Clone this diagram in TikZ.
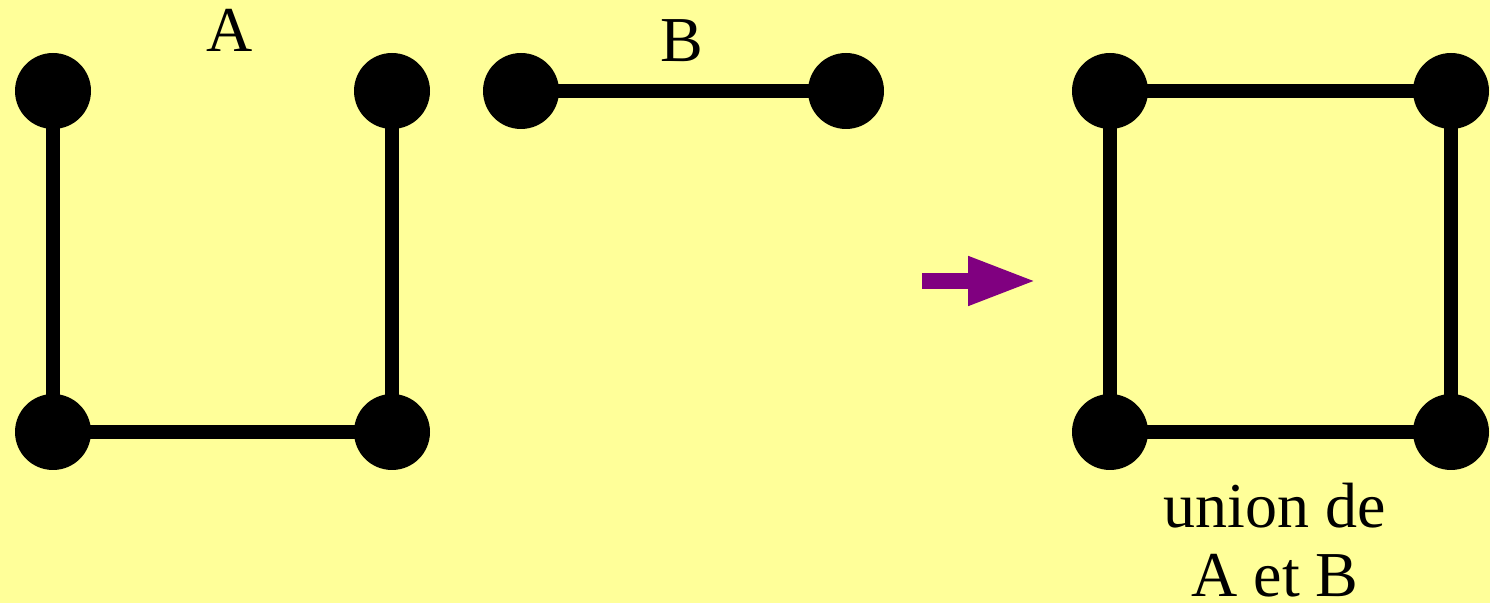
\documentclass[tikz,border=0pt]{standalone}
\usepackage{fontspec}
\setmainfont{Liberation Serif}
\usetikzlibrary{arrows.meta,backgrounds}
\definecolor{bgyellow}{HTML}{FFFF99}
\definecolor{arrowpurple}{HTML}{800080}
\tikzset{
  vertex/.style={circle,fill=black,minimum size=38pt,inner sep=0pt},
  edge/.style={line width=7pt},
  lbl/.style={font=\fontsize{32}{36}\selectfont,anchor=base},
}
\begin{document}
\begin{tikzpicture}[x=0.5pt,y=-0.5pt]
\useasboundingbox (0,0) rectangle (1490,603);
% graph A
\node[vertex] (a1) at (53,91) {};
\node[vertex] (a2) at (392,91) {};
\node[vertex] (a3) at (53,432) {};
\node[vertex] (a4) at (392,432) {};
\node[lbl] (labA) at (230,52) {A};
% graph B
\node[vertex] (b1) at (521,91) {};
\node[vertex] (b2) at (846,91) {};
\node[lbl] (labB) at (682,62) {B};
% union
\node[vertex] (u1) at (1110,91) {};
\node[vertex] (u2) at (1451,91) {};
\node[vertex] (u3) at (1110,432) {};
\node[vertex] (u4) at (1451,432) {};
\node[lbl] (labU1) at (1275,528) {union de};
\node[lbl] (labU2) at (1275,597) {A et B};
% arrow
\coordinate (arrS) at (922,281);
\coordinate (arrE) at (1037,281);
\draw[arrowpurple,line width=8pt,-{Triangle[length=34.5pt,width=22.5pt]}] (arrS) -- (arrE);
\begin{scope}[on background layer]
\fill[bgyellow] (0,0) rectangle (1490,603);
\draw[edge] (a1.center) -- (a3.center) -- (a4.center) -- (a2.center);
\draw[edge] (b1.center) -- (b2.center);
\draw[edge] (u1.center) -- (u2.center) -- (u4.center) -- (u3.center) -- cycle;
\end{scope}
\end{tikzpicture}
\end{document}
